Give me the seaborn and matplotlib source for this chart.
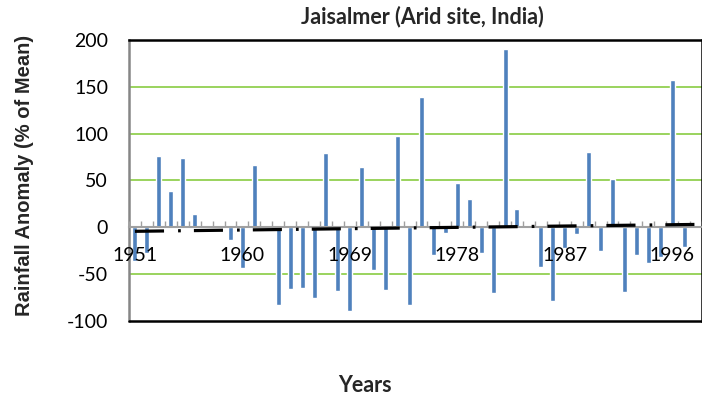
import numpy as np
import pandas as pd
import matplotlib
matplotlib.use("Agg")
import matplotlib.pyplot as plt
import seaborn as sns

years = list(range(1951, 1999))
anomaly = [-36, -27, 76, 39, 74, 14, 1, 0, -13, -43,
           67, 0, -83, -66, -65, -75, 79, -68, -89, 64,
           -46, -67, 98, -83, 139, -30, -6, 47, 30, -27,
           -70, 190, 20, 1.5, -42, -79, -22, -7, 80, -25,
           52, -69, -30, -38, -32, 157, -21, np.nan]
tick_years = [1951, 1960, 1969, 1978, 1987, 1996]
y_ticks = [-100, -50, 0, 50, 100, 150, 200]
grid_levels = [-50, 50, 100, 150]

df = pd.DataFrame({"year": [str(y) for y in years], "anomaly": anomaly})

sns.set_theme(style="white")
plt.rcParams['font.family'] = ['Lato', 'DejaVu Sans']

fig = plt.figure(figsize=(7.02, 4.01), dpi=100)
ax = fig.add_axes([129/702, 1-321/401, 1-129/702, (321-40)/401])

for g in grid_levels:
    ax.axhline(g, color="#92D050", lw=1.3, zorder=1)

sns.barplot(data=df, x="year", y="anomaly", order=[str(y) for y in years],
            color="#4F81BD", saturation=1, width=0.42, ax=ax, zorder=2)

# linear trend
xs = np.arange(len(years))
yv = np.array(anomaly, dtype=float)
m = ~np.isnan(yv)
coef = np.polyfit(xs[m], yv[m], 1)
ax.plot(xs, np.polyval(coef, xs), color="black", lw=2.3,
        linestyle=(0, (9.1, 4.4, 0.85, 4.1)), dash_capstyle="butt", zorder=4)

ax.set_xlim(-0.5, len(years) - 0.5)
ax.set_ylim(-100, 200)
ax.set_yticks(y_ticks)
ax.set_yticklabels([str(v) for v in y_ticks])

ax.set_xticks([years.index(y) for y in tick_years])
ax.set_xticklabels([str(y) for y in tick_years])
ax.set_xticks(np.arange(-0.5, len(years), 1), minor=True)
ax.tick_params(axis='x', which='major', length=0, pad=14, labelsize=14, colors='black')
ax.tick_params(axis='x', which='minor', bottom=True, direction='in', length=4.5, width=1, color='#A0A0A0')
ax.tick_params(axis='y', length=0, pad=15, labelsize=14, colors='black')
ax.xaxis.set_zorder(3.5)

ax.spines['bottom'].set_position(('data', 0))
ax.spines['bottom'].set_color('#A0A0A0')
ax.spines['bottom'].set_linewidth(1.5)
ax.spines['bottom'].set_zorder(3)
ax.spines['left'].set_color('#868686')
ax.spines['left'].set_linewidth(1.8)
ax.spines['top'].set_color('black')
ax.spines['top'].set_linewidth(1.8)
ax.spines['right'].set_color('black')
ax.spines['right'].set_linewidth(1.8)
ax.axhline(-100, color='black', lw=1.8, clip_on=False, zorder=5)

ax.set_xlabel("")
ax.set_ylabel("")
fig.text(422/702, 1-17/401, "Jaisalmer (Arid site, India)", ha='center', va='center',
         fontsize=15.5, fontweight='bold', family=['Lato', 'DejaVu Sans'])
fig.text(365/702, 1-386/401, "Years", ha='center', va='center',
         fontsize=15.5, fontweight='bold', family=['Lato', 'DejaVu Sans'])
fig.text(25/702, 1-175/401, "Rainfall Anomaly (% of Mean)", ha='center', va='center',
         rotation=90, fontsize=14.5, fontweight='bold',
         family=['Liberation Sans', 'DejaVu Sans'])

fig.savefig("out.png", dpi=100)
